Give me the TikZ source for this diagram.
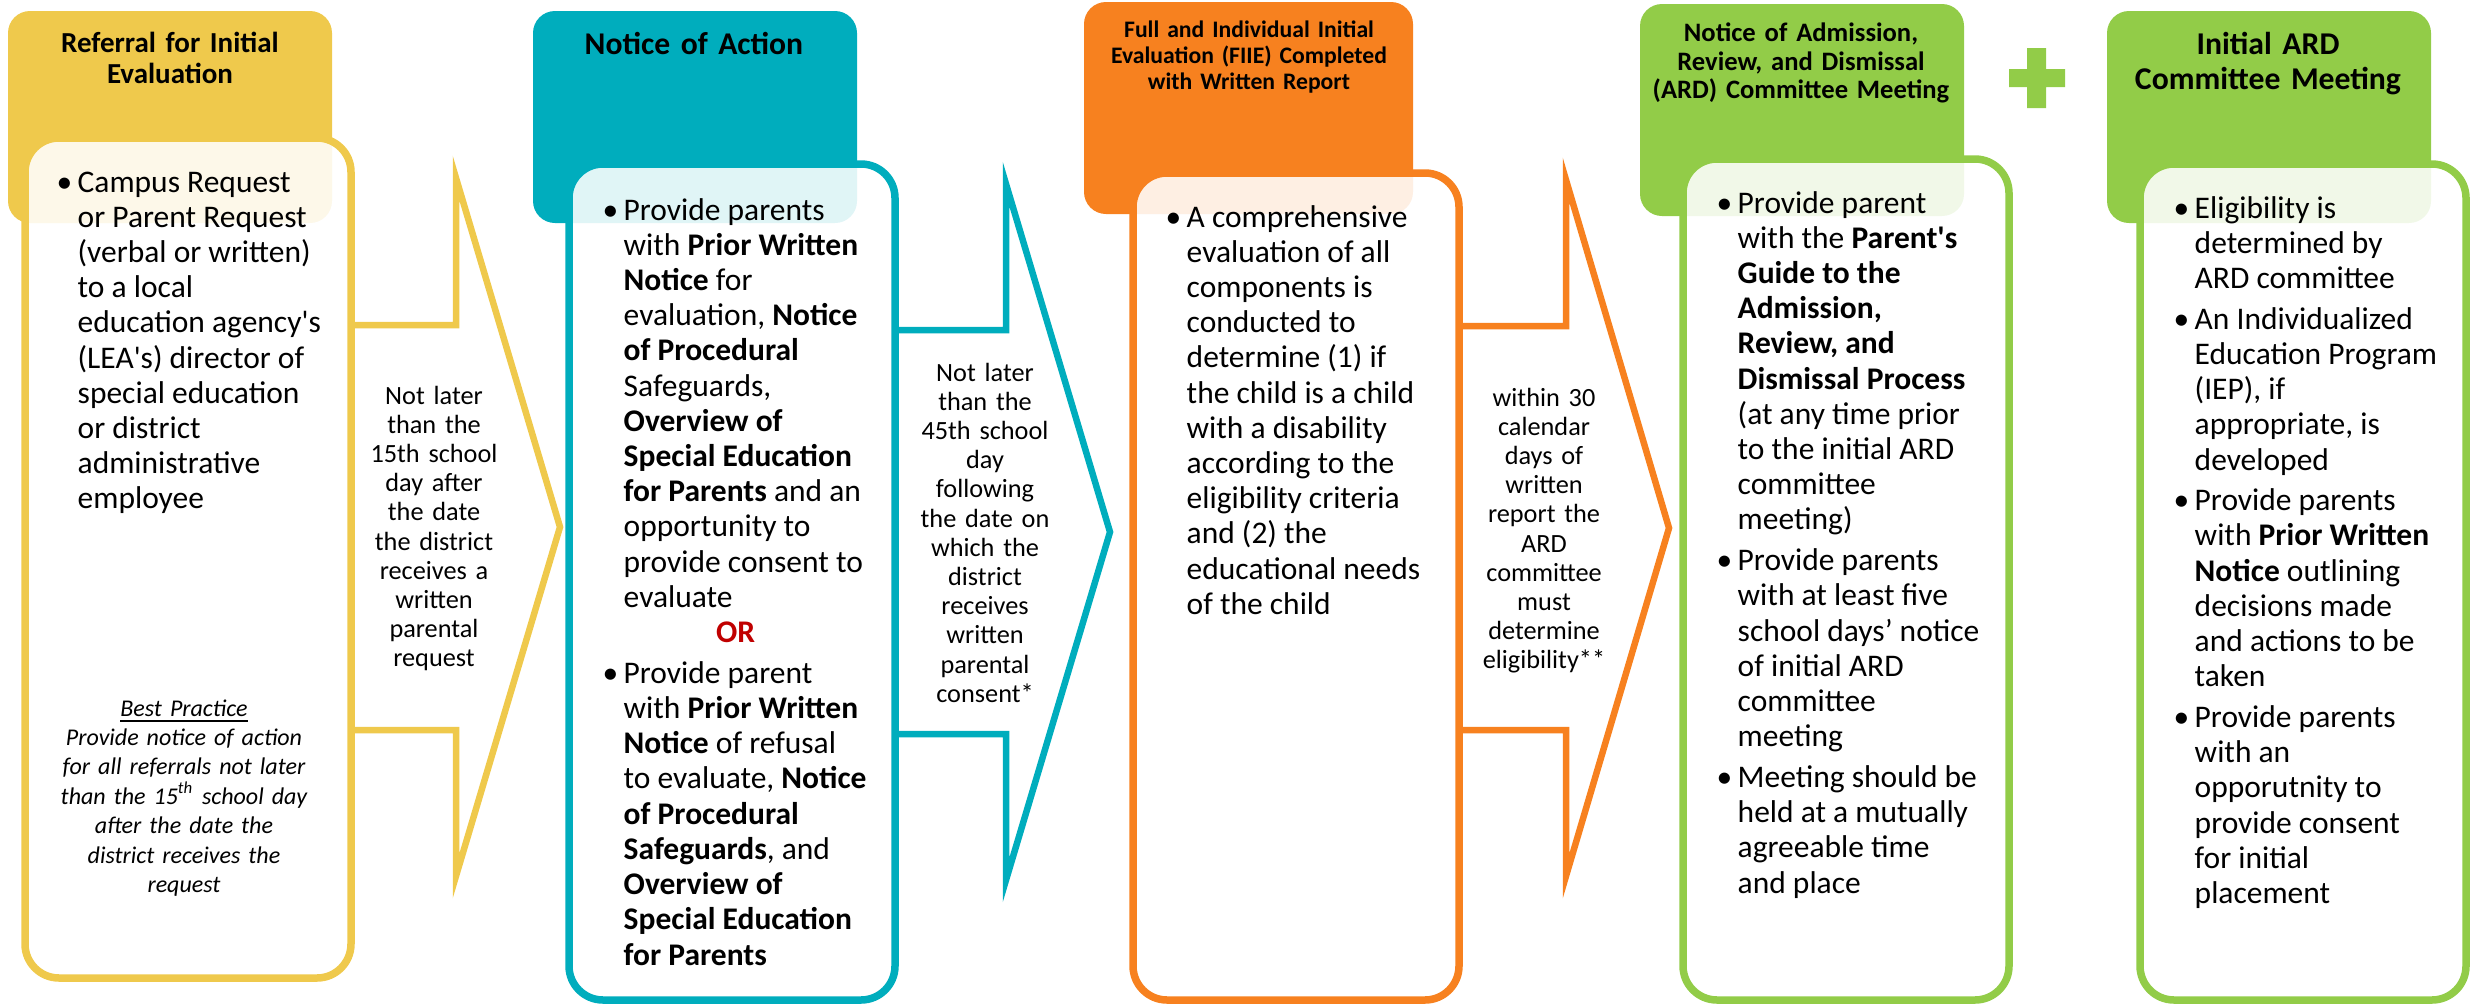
\documentclass[tikz,border=0pt]{standalone}
\usepackage{fontspec}
\setmainfont{Carlito}
\usepackage{tikz}

\definecolor{ylw}{HTML}{EFC94C}
\definecolor{tel}{HTML}{00ADBD}
\definecolor{org}{HTML}{F7811F}
\definecolor{grn}{HTML}{92CC48}
\definecolor{orred}{HTML}{C00000}

\newcommand{\sq}{\textquotesingle}

\begin{document}
\begin{tikzpicture}[x=0.1mm,y=-0.1mm,
  head/.style={fill=#1,rounded corners=2.2mm,minimum width=32.4mm,minimum height=21.2mm,inner sep=0pt,outer sep=0pt,anchor=north west},
  card/.style={draw=#1,line width=0.75mm,fill=white,fill opacity=0.88,rounded corners=3.4mm,minimum width=32.6mm,inner sep=0pt,outer sep=0pt,anchor=north west},
  flow/.style={draw=#1,line width=0.65mm,fill=white},
  ttl/.style={anchor=base,align=center,text width=32mm,inner sep=0pt},
  lbl/.style={anchor=base,align=center,text width=16mm,inner sep=0pt,font=\fontsize{7.48}{8.31}\selectfont},
  txt/.style={anchor=base west,inner sep=0pt,font=\fontsize{8.96}{10.02}\selectfont}]
\useasboundingbox (0,0) rectangle (2478,1006);

% headers
\node[head=ylw] (h1) at (8,11) {};
\node[head=tel] (h2) at (533,11) {};
\node[head=org,minimum width=32.9mm] (h3) at (1084,2) {};
\node[head=grn] (h4) at (1640,4) {};
\node[head=grn] (h5) at (2107,11) {};
\fill[grn] (2027,48) rectangle (2046,108) (2009,69) rectangle (2065,87);

% arrows between the steps
\draw[flow=ylw] (351,325) -- (456,325) -- (456,178) -- (560,527) -- (456,876) -- (456,730) -- (351,730);
\draw[flow=tel] (896,330) -- (1006,330) -- (1006,184) -- (1110,532) -- (1006,880) -- (1006,734) -- (896,734);
\draw[flow=org] (1459,326) -- (1566,326) -- (1566,180) -- (1669,528) -- (1566,876) -- (1566,730) -- (1459,730);

% cards
\node[card=ylw,minimum height=84mm] (c1) at (25,138) {};
\node[card=tel,minimum height=83.6mm] (c2) at (569,164) {};
\node[card=org,minimum height=82.7mm] (c3) at (1133,173) {};
\node[card=grn,minimum height=84.1mm] (c4) at (1683,159) {};
\node[card=grn,minimum height=83.6mm] (c5) at (2140,164) {};

% titles
\node[ttl,font=\fontsize{8.25}{8.9}\selectfont\bfseries] (n1) at (170,52) {Referral for Initial\\Evaluation};
\node[ttl,font=\fontsize{9}{10}\selectfont\bfseries] (n2) at (694,54) {Notice of Action};
\node[ttl,font=\fontsize{6.74}{7.4}\selectfont\bfseries] (n3) at (1249,37) {Full and Individual Initial\\Evaluation (FIIE) Completed\\with Written Report};
\node[ttl,font=\fontsize{7.57}{8.25}\selectfont\bfseries] (n4) at (1801,41) {Notice of Admission,\\Review, and Dismissal\\(ARD) Committee Meeting};
\node[ttl,font=\fontsize{9.02}{10.24}\selectfont\bfseries] (n5) at (2268,54) {Initial ARD\\Committee Meeting};

% card texts
\node[txt] (t1) at (56,192) {\begin{tabular}[t]{@{}p{2.1mm}@{}l@{}}
\textbullet & Campus Request\\
 & or Parent Request\\
 & (verbal or written)\\
 & to a local\\
 & education agency\sq s\\
 & (LEA\sq s) director of\\
 & special education\\
 & or district\\
 & administrative\\
 & employee
\end{tabular}};
\node[anchor=base,align=center,text width=30mm,inner sep=0pt,font=\fontsize{6.83}{8.39}\selectfont\itshape] (bp) at (184,716)
  {\underline{Best Practice}\\Provide notice of action\\for all referrals not later\\than the 15\textsuperscript{th} school day\\after the date the\\district receives the\\request};

\node[txt] (t2) at (602,220) {\begin{tabular}[t]{@{}p{2.1mm}@{}l@{}}
\textbullet & Provide parents\\
 & with \textbf{Prior Written}\\
 & \textbf{Notice} for\\
 & evaluation, \textbf{Notice}\\
 & \textbf{of Procedural}\\
 & Safeguards,\\
 & \textbf{Overview of}\\
 & \textbf{Special Education}\\
 & \textbf{for Parents} and an\\
 & opportunity to\\
 & provide consent to\\
 & evaluate\\
\multicolumn{2}{@{}l@{}}{\makebox[26.6mm]{\color{orred}\textbf{OR}}}\\[0.55mm]
\textbullet & Provide parent\\
 & with \textbf{Prior Written}\\
 & \textbf{Notice} of refusal\\
 & to evaluate, \textbf{Notice}\\
 & \textbf{of Procedural}\\
 & \textbf{Safeguards}, and\\
 & \textbf{Overview of}\\
 & \textbf{Special Education}\\
 & \textbf{for Parents}
\end{tabular}};

\node[txt] (t3) at (1165,227) {\begin{tabular}[t]{@{}p{2.1mm}@{}l@{}}
\textbullet & A comprehensive\\
 & evaluation of all\\
 & components is\\
 & conducted to\\
 & determine (1) if\\
 & the child is a child\\
 & with a disability\\
 & according to the\\
 & eligibility criteria\\
 & and (2) the\\
 & educational needs\\
 & of the child
\end{tabular}};

\node[txt] (t4) at (1716,213) {\begin{tabular}[t]{@{}p{2.1mm}@{}l@{}}
\textbullet & Provide parent\\
 & with the \textbf{Parent\sq s}\\
 & \textbf{Guide to the}\\
 & \textbf{Admission,}\\
 & \textbf{Review, and}\\
 & \textbf{Dismissal Process}\\
 & (at any time prior\\
 & to the initial ARD\\
 & committee\\
 & meeting)\\[0.55mm]
\textbullet & Provide parents\\
 & with at least five\\
 & school days’ notice\\
 & of initial ARD\\
 & committee\\
 & meeting\\[0.55mm]
\textbullet & Meeting should be\\
 & held at a mutually\\
 & agreeable time\\
 & and place
\end{tabular}};

\node[txt] (t5) at (2173,218) {\begin{tabular}[t]{@{}p{2.1mm}@{}l@{}}
\textbullet & Eligibility is\\
 & determined by\\
 & ARD committee\\[0.55mm]
\textbullet & An Individualized\\
 & Education Program\\
 & (IEP), if\\
 & appropriate, is\\
 & developed\\[0.55mm]
\textbullet & Provide parents\\
 & with \textbf{Prior Written}\\
 & \textbf{Notice} outlining\\
 & decisions made\\
 & and actions to be\\
 & taken\\[0.55mm]
\textbullet & Provide parents\\
 & with an\\
 & opporutnity to\\
 & provide consent\\
 & for initial\\
 & placement
\end{tabular}};

% arrow labels
\node[lbl] (l1) at (434,404) {Not later\\than the\\15th school\\day after\\the date\\the district\\receives a\\written\\parental\\request};
\node[lbl] (l2) at (985,381) {Not later\\than the\\45th school\\day\\following\\the date on\\which the\\district\\receives\\written\\parental\\consent*};
\node[lbl] (l3) at (1544,406) {within 30\\calendar\\days of\\written\\report the\\ARD\\committee\\must\\determine\\eligibility**};
\end{tikzpicture}
\end{document}
